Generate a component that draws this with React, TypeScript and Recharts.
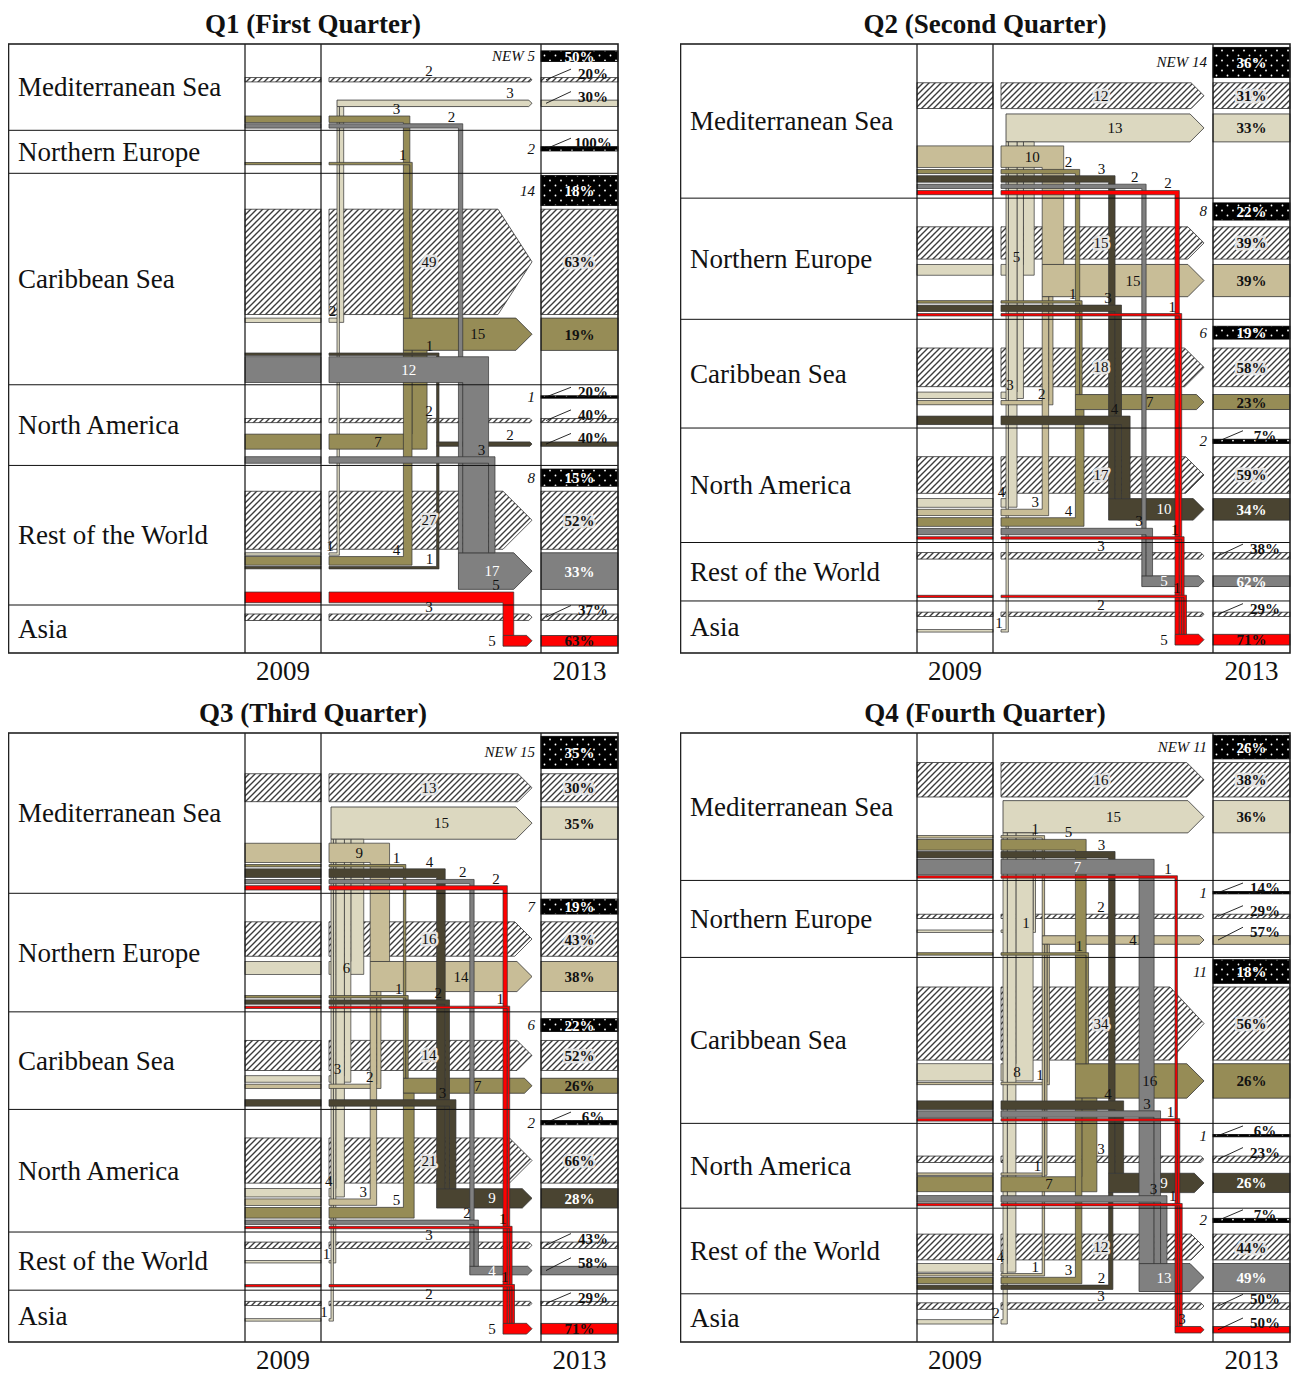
import React from 'react';
import { ComposedChart, XAxis, YAxis, ReferenceArea, ReferenceDot } from 'recharts';

// ---------- data ----------
const REGIONS = ['Mediterranean Sea', 'Northern Europe', 'Caribbean Sea', 'North America', 'Rest of the World', 'Asia'];
const YEARS = ['2009', '2013'];

const q1Title = 'Q1 (First Quarter)';
const q1New = [5, 2, 14, 1, 8, 0];
const q1NewPct = ['50%', '100%', '18%', '20%', '15%', ''];
const q1Stay = [2, 0, 49, 2, 27, 3];
const q1StayPct = ['20%', '', '63%', '40%', '52%', '37%'];
const q1InPct = ['30%', '', '19%', '40%', '33%', '63%'];
const q1Flows: [number, number, number][] = [
  [0, 2, 3], [0, 4, 2],
  [1, 2, 1],
  [2, 0, 2], [2, 3, 1], [2, 4, 12],
  [3, 2, 7], [3, 4, 3],
  [4, 0, 1], [4, 2, 4], [4, 3, 1], [4, 5, 5],
];

const q2Title = 'Q2 (Second Quarter)';
const q2New = [14, 8, 6, 2, 0, 0];
const q2NewPct = ['36%', '22%', '19%', '7%', '', ''];
const q2Stay = [12, 15, 18, 17, 3, 2];
const q2StayPct = ['31%', '39%', '58%', '59%', '38%', '29%'];
const q2InPct = ['33%', '39%', '23%', '34%', '62%', '71%'];
const q2Flows: [number, number, number][] = [
  [0, 1, 10], [0, 2, 2], [0, 3, 3], [0, 4, 2], [0, 5, 2],
  [1, 0, 5], [1, 2, 1], [1, 3, 3], [1, 5, 1],
  [2, 0, 3], [2, 1, 2], [2, 3, 4],
  [3, 0, 4], [3, 1, 3], [3, 2, 4], [3, 4, 3], [3, 5, 1],
  [4, 5, 1],
  [5, 0, 1],
];

const q3Title = 'Q3 (Third Quarter)';
const q3New = [15, 7, 6, 2, 0, 0];
const q3NewPct = ['35%', '19%', '22%', '6%', '', ''];
const q3Stay = [13, 16, 14, 21, 3, 2];
const q3StayPct = ['30%', '43%', '52%', '66%', '43%', '29%'];
const q3InPct = ['35%', '38%', '26%', '28%', '58%', '71%'];
const q3Flows: [number, number, number][] = [
  [0, 1, 9], [0, 2, 1], [0, 3, 4], [0, 4, 2], [0, 5, 2],
  [1, 0, 6], [1, 2, 1], [1, 3, 2], [1, 5, 1],
  [2, 0, 3], [2, 1, 2], [2, 3, 3],
  [3, 0, 4], [3, 1, 3], [3, 2, 5], [3, 4, 2], [3, 5, 1],
  [4, 0, 1], [4, 5, 1],
  [5, 0, 1],
];

const q4Title = 'Q4 (Fourth Quarter)';
const q4New = [11, 1, 11, 1, 2, 0];
const q4NewPct = ['26%', '14%', '18%', '6%', '7%', ''];
const q4Stay = [16, 2, 34, 3, 12, 3];
const q4StayPct = ['38%', '29%', '56%', '23%', '44%', '50%'];
const q4InPct = ['36%', '57%', '26%', '26%', '49%', '50%'];
const q4Flows: [number, number, number][] = [
  [0, 1, 1], [0, 2, 5], [0, 3, 3], [0, 4, 7], [0, 5, 1],
  [1, 0, 1], [1, 2, 1],
  [2, 0, 8], [2, 1, 1], [2, 3, 4], [2, 4, 3], [2, 5, 1],
  [3, 1, 1], [3, 2, 7], [3, 4, 3], [3, 5, 1],
  [4, 0, 4], [4, 1, 1], [4, 2, 3], [4, 3, 2],
  [5, 0, 2],
];

// ---------- styles / layout constants ----------
const DEST_COLORS = ['#dcd8c0', '#c8bd97', '#968c56', '#4a4431', '#808080', '#ff0000'];
const LIGHT_TEXT = [false, false, false, true, true, false];
const SERIF = '"Liberation Serif", "Times New Roman", Times, serif';
const STROKE = '#333';

const CW = 612, CH = 684;
const S = 2.15, MINH = 2.4, MINROW = 43, SLOT = 20;
const PY0 = 36, PH = 609;
const FX0 = 0.5, FX1 = 610;
const C09L = 237, C09R = 313, C13L = 533, C13R = 610;
const FLOW0 = 321, TIP = 524;
const LANE_FIRST = 8, LANE_STEP = 33.2, LANE_LAST = 174, LANE_GAP = 8;
const G_TOP = 1, G_NEW = 1.6, G_STAY = 1.6, G_ARR = 1.2, G_STRIPE = 0.6, G_BOT = 1;
const LABEL_STEP = 15;

const th = (v: number) => Math.max(MINH, v * S);
const slot = (h: number) => Math.max(h, SLOT);

type Panel = {
  title: string; nw: number[]; nwPct: string[]; stay: number[]; stayPct: string[]; inPct: string[];
  flows: [number, number, number][];
};

const PANELS: Panel[] = [
  { title: q1Title, nw: q1New, nwPct: q1NewPct, stay: q1Stay, stayPct: q1StayPct, inPct: q1InPct, flows: q1Flows },
  { title: q2Title, nw: q2New, nwPct: q2NewPct, stay: q2Stay, stayPct: q2StayPct, inPct: q2InPct, flows: q2Flows },
  { title: q3Title, nw: q3New, nwPct: q3NewPct, stay: q3Stay, stayPct: q3StayPct, inPct: q3InPct, flows: q3Flows },
  { title: q4Title, nw: q4New, nwPct: q4NewPct, stay: q4Stay, stayPct: q4StayPct, inPct: q4InPct, flows: q4Flows },
];

type Bar = { y: number; h: number } | null;

function buildPanel(P: Panel, pid: number) {
  let kn = 0;
  const k = () => `p${pid}_${kn++}`;

  const area = (x1: number, y1: number, x2: number, y2: number, draw: (p: any) => any) => (
    <ReferenceArea key={k()} x1={x1} x2={x2} y1={y1} y2={y2} ifOverflow="visible" shape={(p: any) => draw(p)} />
  );
  const rectEl = (x1: number, y1: number, x2: number, y2: number, fill: string, stroke = STROKE, sw = 0.8) =>
    area(x1, y1, x2, y2, (p) => (
      <rect x={p.x} y={p.y} width={p.width} height={p.height} fill={fill} stroke={stroke} strokeWidth={sw} />
    ));
  const arrowEl = (x1: number, y1: number, x2: number, y2: number, fill: string) =>
    area(x1, y1, x2, y2, (p) => {
      const hl = Math.min(p.height / 2, 34);
      const d = `M${p.x},${p.y}H${p.x + p.width - hl}L${p.x + p.width},${p.y + p.height / 2}L${p.x + p.width - hl},${p.y + p.height}H${p.x}Z`;
      return <path d={d} fill={fill} stroke={STROKE} strokeWidth={0.8} />;
    });
  const lineEl = (x1: number, y1: number, x2: number, y2: number) =>
    area(x1, y2, x2, y1, (p) => (
      <path d={`M${p.x},${p.y + p.height}L${p.x + p.width},${p.y}`} stroke="#111" strokeWidth={0.9} fill="none" />
    ));
  const textEl = (x: number, y: number, str: string, o: any = {}) => (
    <ReferenceDot key={k()} x={x} y={y} r={0} ifOverflow="visible"
      shape={(p: any) => (
        <text x={p.cx} y={p.cy} textAnchor={o.anchor || 'middle'} fontFamily={SERIF} fontSize={o.size || 15}
          fontWeight={o.bold ? 'bold' : 'normal'} fontStyle={o.italic ? 'italic' : 'normal'}
          fill={o.fill || '#111'} stroke={o.halo ? '#e4e4e4' : 'none'} strokeWidth={o.halo ? 5 : 0}
          paintOrder="stroke" strokeLinejoin="round">{str}</text>
      )} />
  );

  const F = P.flows.map(([from, to, value], i) => ({ from, to, value, i }));
  const inTot = REGIONS.map((_, d) => F.filter((f) => f.to === d).reduce((a, f) => a + f.value, 0));
  const off: number[] = [];
  const trunkW: number[] = [];
  REGIONS.forEach((_, d) => {
    const ab = F.filter((f) => f.to === d && f.from < d).sort((a, b) => a.from - b.from);
    let o = 0;
    ab.forEach((f) => { off[f.i] = o; o += th(f.value); });
    const aw = o;
    const be = F.filter((f) => f.to === d && f.from > d).sort((a, b) => b.from - a.from);
    o = 0;
    be.forEach((f) => { off[f.i] = o; o += th(f.value); });
    trunkW[d] = Math.max(aw, o);
  });
  const lanes: number[] = [];
  lanes[5] = LANE_LAST;
  for (let d = 4; d >= 0; d--) lanes[d] = Math.max(2, Math.min(LANE_FIRST + d * LANE_STEP, lanes[d + 1] - trunkW[d] - LANE_GAP));
  const laneX = (d: number) => FLOW0 + lanes[d];
  const colX = (f: any) => laneX(f.to) + off[f.i];
  const rEnd = (f: any) => colX(f) + th(f.value);

  const pack = (g: number) => {
    let y = PY0;
    const rows: { top: number; bottom: number; nb: Bar; sb: Bar; ab: Bar }[] = [];
    const stripe: { y: number; h: number }[] = [];
    for (let r = 0; r < REGIONS.length; r++) {
      const top = y;
      let y13 = top + G_TOP * g;
      let nb: Bar = null, sb: Bar = null, ab: Bar = null;
      if (P.nw[r] > 0) {
        const h = th(P.nw[r]), sl = slot(h);
        nb = { y: y13 + (sl - h) / 2, h }; y13 += sl + G_NEW * g;
      }
      if (P.stay[r] > 0) {
        const h = th(P.stay[r]), sl = slot(h);
        sb = { y: y13 + (sl - h) / 2, h }; y13 += sl + G_STAY * g;
      }
      let cur = y13;
      let arrBottom = -Infinity;
      if (inTot[r] > 0) {
        const h = th(inTot[r]), sl = slot(h);
        ab = { y: y13 + (sl - h) / 2, h }; y13 += sl; arrBottom = y13;
      }
      const outs = F.filter((f) => f.from === r).sort((a, b) => a.to - b.to);
      let last = -Infinity;
      outs.forEach((f) => {
        if (ab && rEnd(f) > laneX(r) - 3) cur = Math.max(cur, arrBottom + G_ARR * g);
        const h = th(f.value);
        stripe[f.i] = { y: cur, h };
        last = cur + h;
        cur += h + G_STRIPE * g;
      });
      let bottom = Math.max(y13 + G_BOT * g, last + G_BOT * g);
      if (bottom - top < MINROW) {
        const extra = (MINROW - (bottom - top)) / 2;
        const shift = (b: Bar) => (b ? { y: b.y + extra, h: b.h } : null);
        nb = shift(nb); sb = shift(sb); ab = shift(ab);
        outs.forEach((f) => { stripe[f.i] = { y: stripe[f.i].y + extra, h: stripe[f.i].h }; });
        bottom = top + MINROW;
      }
      rows.push({ top, bottom, nb, sb, ab });
      y = bottom;
    }
    return { rows, stripe, total: y - PY0 };
  };
  let lo = 0, hi = 40;
  for (let it = 0; it < 40; it++) {
    const m = (lo + hi) / 2;
    if (pack(m).total < PH) lo = m; else hi = m;
  }
  const L = pack(lo);
  const rows = L.rows;

  const els: any[] = [];
  const c13 = (C13L + C13R) / 2;

  // ---- percentage labels: collect, resolve collisions, then emit ----
  type PL = { bar: { y: number; h: number }; txt: string; fill: string; halo: boolean; thin: boolean; base: number };
  const pls: PL[] = [];
  const addPct = (bar: { y: number; h: number }, txt: string, fill: string, halo = false) => {
    if (!txt) return;
    const thin = bar.h < 9;
    pls.push({ bar, txt, fill, halo, thin, base: thin ? bar.y + 1.5 : bar.y + bar.h / 2 + 5.5 });
  };
  rows.forEach((row, r) => {
    if (row.nb) addPct(row.nb, P.nwPct[r], '#fff');
    if (row.sb) addPct(row.sb, P.stayPct[r], '#111', true);
    if (row.ab) addPct(row.ab, P.inPct[r], LIGHT_TEXT[r] ? '#fff' : '#111');
  });
  for (let i = 1; i < pls.length; i++) {
    if (pls[i].thin && pls[i].base < pls[i - 1].base + LABEL_STEP) pls[i].base = pls[i - 1].base + LABEL_STEP;
  }
  for (let i = pls.length - 2; i >= 0; i--) {
    if (pls[i].thin && pls[i].base > pls[i + 1].base - LABEL_STEP) pls[i].base = pls[i + 1].base - LABEL_STEP;
  }

  // stays (hatched)
  rows.forEach((row) => {
    const sb = row.sb;
    if (!sb) return;
    els.push(rectEl(C09L, sb.y, C09R, sb.y + sb.h, 'url(#hatch)'));
    els.push(arrowEl(FLOW0, sb.y, TIP, sb.y + sb.h, 'url(#hatch)'));
    els.push(rectEl(C13L, sb.y, C13R, sb.y + sb.h, 'url(#hatch)'));
  });
  // incoming arrows
  rows.forEach((row, r) => {
    const ab = row.ab;
    if (!ab) return;
    els.push(arrowEl(laneX(r), ab.y, TIP, ab.y + ab.h, DEST_COLORS[r]));
    els.push(rectEl(C13L, ab.y, C13R, ab.y + ab.h, DEST_COLORS[r]));
  });
  // flows (L-shapes) and 2009 stripes
  REGIONS.forEach((_, d) => {
    F.filter((f) => f.to === d).forEach((f) => {
      const s = L.stripe[f.i];
      const a = rows[f.to].ab as { y: number; h: number };
      const cw = th(f.value);
      const above = f.from < f.to;
      const x1 = FLOW0, x2 = colX(f) + cw;
      const y1 = above ? s.y : a.y + a.h;
      const y2 = above ? a.y : s.y + s.h;
      els.push(area(x1, y1, x2, y2, (p) => {
        const kx = p.width / (x2 - x1), ky = p.height / (y2 - y1);
        const X = p.x, Y = p.y, W = p.width, H = p.height, c = cw * kx, sh = s.h * ky;
        const dd = above
          ? `M${X},${Y}H${X + W}V${Y + H}H${X + W - c}V${Y + sh}H${X}Z`
          : `M${X + W - c},${Y}H${X + W}V${Y + H}H${X}V${Y + H - sh}H${X + W - c}Z`;
        return <path d={dd} fill={DEST_COLORS[f.to]} stroke={STROKE} strokeWidth={0.7} />;
      }));
      els.push(rectEl(C09L, s.y, C09R, s.y + s.h, DEST_COLORS[f.to], STROKE, 0.7));
    });
  });
  // NEW bars
  rows.forEach((row) => {
    const nb = row.nb;
    if (!nb) return;
    els.push(rectEl(C13L, nb.y, C13R, nb.y + nb.h, 'url(#newdots)', '#000', 0.8));
  });

  // ----- labels -----
  rows.forEach((row, r) => {
    els.push(textEl(10, (row.top + row.bottom) / 2 + 9, REGIONS[r], { anchor: 'start', size: 27 }));
    if (row.nb) {
      els.push(textEl(C13L - 6, row.nb.y + row.nb.h / 2 + 5, (r === 0 ? 'NEW ' : '') + P.nw[r], { anchor: 'end', italic: true }));
    }
    if (row.sb) {
      const sb = row.sb;
      if (sb.h >= 11) els.push(textEl(FLOW0 + 100, sb.y + sb.h / 2 + 5, String(P.stay[r]), { halo: true }));
      else els.push(textEl(FLOW0 + 100, sb.y - 2, String(P.stay[r])));
    }
    if (row.ab) {
      const ab = row.ab;
      const fill = LIGHT_TEXT[r] ? '#fff' : '#111';
      if (ab.h >= 8) els.push(textEl(Math.min((laneX(r) + TIP) / 2 + 10, TIP - 40), ab.y + ab.h / 2 + 5, String(inTot[r]), { fill }));
      else els.push(textEl(TIP - 22, ab.y - 2, String(inTot[r])));
    }
  });
  pls.forEach((pl) => {
    if (pl.thin) {
      els.push(lineEl(C13L + 5, pl.bar.y + pl.bar.h / 2, C13L + 30, pl.base - 10));
      els.push(textEl(C13L + 52, pl.base, pl.txt, { bold: true }));
    } else {
      els.push(textEl(c13, pl.base, pl.txt, { bold: true, fill: pl.fill, halo: pl.halo }));
    }
  });
  F.forEach((f) => {
    const s = L.stripe[f.i];
    if (s.h >= 11) {
      els.push(textEl((FLOW0 + rEnd(f)) / 2, s.y + s.h / 2 + 5, String(f.value), { fill: LIGHT_TEXT[f.to] ? '#fff' : '#111' }));
    } else {
      els.push(textEl(colX(f) - 7, s.y - 2, String(f.value)));
    }
  });

  // ----- grid lines and frame -----
  rows.forEach((row, r) => {
    if (r > 0) els.push(rectEl(FX0, row.top - 0.5, FX1, row.top + 0.5, '#111', 'none', 0));
  });
  [C09L, C09R, C13L].forEach((x) => els.push(rectEl(x - 0.6, PY0, x + 0.6, PY0 + PH, '#111', 'none', 0)));
  els.push(rectEl(FX0, PY0, FX1, PY0 + PH, 'none', '#222', 1.6));

  // titles and years
  els.push(textEl(CW / 2 - 1, 25, P.title, { size: 27, bold: true }));
  els.push(textEl((C09L + C09R) / 2, PY0 + PH + 27, YEARS[0], { size: 27 }));
  els.push(textEl((C13L + C13R) / 2, PY0 + PH + 27, YEARS[1], { size: 27 }));

  return els;
}

function PanelChart({ P, pid }: { P: Panel; pid: number }) {
  const els = buildPanel(P, pid);
  return (
    <ComposedChart width={CW} height={CH} data={[{ x: 0, y: 0 }]} margin={{ top: 0, right: 0, bottom: 0, left: 0 }}>
      <XAxis type="number" dataKey="x" domain={[0, CW]} hide allowDataOverflow />
      <YAxis type="number" dataKey="y" domain={[0, CH]} hide reversed allowDataOverflow />
      {els}
    </ComposedChart>
  );
}

export default function App() {
  const pos = [
    { left: 8, top: 8 },
    { left: 680, top: 8 },
    { left: 8, top: 697 },
    { left: 680, top: 697 },
  ];
  return (
    <div style={{ position: 'fixed', left: 0, top: 0, width: 1292, height: 1374, overflow: 'hidden', background: '#fff' }}>
      <svg width={0} height={0} style={{ position: 'absolute' }}>
        <defs>
          <pattern id="hatch" patternUnits="userSpaceOnUse" width={6} height={6}>
            <rect x={0} y={0} width={6} height={6} fill="#fff" />
            <path d="M-1.5,1.5L1.5,-1.5M0,6L6,0M4.5,7.5L7.5,4.5" stroke="#3c3c3c" strokeWidth={1.4} />
          </pattern>
          <pattern id="newdots" patternUnits="userSpaceOnUse" width={11} height={10}>
            <rect x={0} y={0} width={11} height={10} fill="#000" />
            <circle cx={3} cy={2.5} r={0.9} fill="#fff" />
            <circle cx={8.5} cy={7.5} r={0.9} fill="#fff" />
          </pattern>
        </defs>
      </svg>
      {PANELS.map((P, i) => (
        <div key={i} style={{ position: 'absolute', left: pos[i].left, top: pos[i].top, width: CW, height: CH }}>
          <PanelChart P={P} pid={i} />
        </div>
      ))}
    </div>
  );
}
